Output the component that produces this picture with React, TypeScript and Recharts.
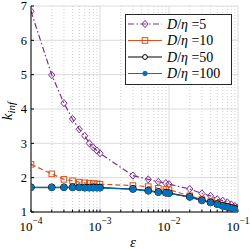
import React from "react";
import { LineChart, Line, XAxis, YAxis, CartesianGrid } from "recharts";

const eps = [
  0.0001, 0.0002, 0.0003, 0.0004, 0.0005, 0.0006, 0.0007, 0.0008, 0.0009, 0.001,
  0.003, 0.005, 0.007, 0.009, 0.01,
  0.02, 0.03, 0.04, 0.05, 0.06, 0.07, 0.08, 0.09, 0.1,
];
const k5 = [
  6.85, 4.99, 4.17, 3.71, 3.41, 3.22, 3.0, 2.88, 2.79, 2.71,
  2.06, 1.95, 1.88, 1.84, 1.81,
  1.67, 1.54, 1.47, 1.37, 1.33, 1.28, 1.22, 1.17, 1.13,
];
const k10 = [
  2.39, 2.11, 1.95, 1.91, 1.87, 1.85, 1.84, 1.83, 1.82, 1.81,
  1.77, 1.74, 1.69, 1.66, 1.65,
  1.47, 1.36, 1.3, 1.25, 1.2, 1.16, 1.13, 1.1, 1.07,
];
const k50 = [
  1.72, 1.72, 1.72, 1.72, 1.72, 1.71, 1.71, 1.71, 1.71, 1.71,
  1.67, 1.62, 1.58, 1.56, 1.55,
  1.44, 1.34, 1.28, 1.23, 1.18, 1.15, 1.12, 1.09, 1.06,
];
const k100 = [
  1.71, 1.71, 1.71, 1.71, 1.71, 1.7, 1.7, 1.7, 1.7, 1.7,
  1.66, 1.61, 1.57, 1.55, 1.54,
  1.43, 1.33, 1.27, 1.22, 1.17, 1.14, 1.11, 1.08, 1.05,
];

const xMajor = [1e-4, 1e-3, 1e-2, 1e-1];
const xMinor = [
  2e-4, 3e-4, 4e-4, 5e-4, 6e-4, 7e-4, 8e-4, 9e-4,
  2e-3, 3e-3, 4e-3, 5e-3, 6e-3, 7e-3, 8e-3, 9e-3,
  2e-2, 3e-2, 4e-2, 5e-2, 6e-2, 7e-2, 8e-2, 9e-2,
];
const xAll = [...xMajor, ...xMinor].sort((a, b) => a - b);
const yTicks = [1, 2, 3, 4, 5, 6, 7];
const ratios = ["5", "10", "50", "100"];

const PURPLE = "#7E2F8E";
const ORANGE = "#D95319";
const BLUE = "#0072BD";
const FONT = '"Liberation Serif", "Times New Roman", serif';

const data = eps.map((e, i) => ({ eps: e, k5: k5[i], k10: k10[i], k50: k50[i], k100: k100[i] }));

const scaleOf = (axis: any) => {
  const s = axis?.scale;
  if (!s) return (v: number) => v;
  return typeof s === "function" ? (v: number) => s(v) : (v: number) => s.map(v);
};

const Diamond = (p: any) =>
  p.cx == null ? null : (
    <polygon
      key={p.index}
      points={`${p.cx},${p.cy - 3.6} ${p.cx + 3.1},${p.cy} ${p.cx},${p.cy + 3.6} ${p.cx - 3.1},${p.cy}`}
      fill="none"
      stroke={PURPLE}
      strokeWidth={1}
    />
  );
const Square = (p: any) =>
  p.cx == null ? null : (
    <rect key={p.index} x={p.cx - 2.8} y={p.cy - 2.8} width={5.6} height={5.6} fill="none" stroke={ORANGE} strokeWidth={1} />
  );
const Ring = (p: any) =>
  p.cx == null ? null : <circle key={p.index} cx={p.cx} cy={p.cy} r={3.4} fill="none" stroke="#000" strokeWidth={1} />;
const Dot = (p: any) =>
  p.cx == null ? null : <circle key={p.index} cx={p.cx} cy={p.cy} r={3} fill={BLUE} stroke={BLUE} strokeWidth={0.6} />;

const XTick = (p: any) => {
  const v = p.payload.value;
  const lg = Math.log10(v);
  if (Math.abs(lg - Math.round(lg)) > 1e-6) return <g />;
  return (
    <text x={p.x} y={p.y + 19} textAnchor="middle" fontFamily={FONT} fontSize={13} fill="#000">
      <tspan>10</tspan>
      <tspan dy={-7} fontSize={9.5}>{"\u2212" + Math.abs(Math.round(lg))}</tspan>
    </text>
  );
};

const legendRows = [
  { color: PURPLE, dash: "6 2.5 1.5 2.5", mark: "diamond" },
  { color: ORANGE, dash: "", mark: "square" },
  { color: "#000", dash: "", mark: "ring" },
  { color: BLUE, dash: "", mark: "dot" },
];

const LegendMark = ({ mark, x, y }: { mark: string; x: number; y: number }) => {
  if (mark === "diamond") return <Diamond cx={x} cy={y} />;
  if (mark === "square") return <Square cx={x} cy={y} />;
  if (mark === "ring") return <circle cx={x} cy={y} r={2.4} fill="#fff" stroke="#000" strokeWidth={1} />;
  return <circle cx={x} cy={y} r={2.2} fill={BLUE} stroke={BLUE} />;
};

export default function App() {
  return (
    <div style={{ position: "fixed", left: 0, top: 0, width: 250, height: 249, background: "#fff" }}>
      <LineChart width={250} height={249} data={data} margin={{ top: 6, right: 12, left: 0, bottom: 0 }}>
        <CartesianGrid
          stroke="#dcdcdc"
          strokeWidth={1}
          horizontalValues={yTicks}
          verticalCoordinatesGenerator={({ xAxis }: any) => xMajor.map(scaleOf(xAxis))}
        />
        <CartesianGrid
          stroke="#c4c4c4"
          strokeDasharray="1 2"
          strokeWidth={0.8}
          horizontal={false}
          verticalCoordinatesGenerator={({ xAxis }: any) => xMinor.map(scaleOf(xAxis))}
        />
        <XAxis
          dataKey="eps"
          type="number"
          scale="log"
          domain={[1e-4, 0.1]}
          ticks={xAll}
          interval={0}
          height={37}
          allowDataOverflow
          axisLine={{ stroke: "#000" }}
          tickLine={{ stroke: "#000" }}
          tickSize={-2.5}
          tickMargin={2}
          tick={<XTick />}
        />
        <XAxis
          xAxisId="top"
          orientation="top"
          type="number"
          scale="log"
          domain={[1e-4, 0.1]}
          ticks={xAll}
          interval={0}
          height={0}
          allowDataOverflow
          axisLine={{ stroke: "#000" }}
          tickLine={{ stroke: "#000" }}
          tickSize={-2.5}
          tick={false}
        />
        <YAxis
          type="number"
          domain={[1, 7]}
          ticks={yTicks}
          interval={0}
          width={31}
          allowDataOverflow
          axisLine={{ stroke: "#000" }}
          tickLine={{ stroke: "#000" }}
          tickSize={-3}
          tickMargin={7}
          tick={{ fontSize: 12.5, fill: "#000", fontFamily: FONT }}
        />
        <YAxis
          yAxisId="right"
          orientation="right"
          type="number"
          domain={[1, 7]}
          ticks={yTicks}
          interval={0}
          width={0}
          allowDataOverflow
          axisLine={{ stroke: "#000" }}
          tickLine={{ stroke: "#000" }}
          tickSize={-3}
          tick={false}
        />
        <Line dataKey="k5" stroke={PURPLE} strokeWidth={1.2} strokeDasharray="6 2.5 1.5 2.5" dot={<Diamond />} isAnimationActive={false} />
        <Line dataKey="k10" stroke={ORANGE} strokeWidth={1.2} strokeDasharray="5 3" dot={<Square />} isAnimationActive={false} />
        <Line dataKey="k50" stroke="#000" strokeWidth={1.2} dot={<Ring />} isAnimationActive={false} />
        <Line dataKey="k100" stroke={BLUE} strokeWidth={1.2} dot={<Dot />} isAnimationActive={false} />
      </LineChart>
      <svg width={250} height={249} style={{ position: "absolute", left: 0, top: 0, pointerEvents: "none" }}>
        <text x={133} y={247} textAnchor="middle" fontFamily={FONT} fontStyle="italic" fontSize={15} fill="#000">
          ε
        </text>
        <text transform="translate(12,111) rotate(-90)" textAnchor="middle" fontFamily={FONT} fontStyle="italic" fontSize={15} fill="#000">
          <tspan>k</tspan>
          <tspan dy={3} fontSize={11}>inf</tspan>
        </text>
        <rect x={125.5} y={14.5} width={106} height={70} fill="#fff" stroke="#262626" strokeWidth={1} />
        {legendRows.map((r, i) => {
          const cy = 24 + i * 16.5;
          return (
            <g key={i}>
              <line x1={128} x2={162} y1={cy} y2={cy} stroke={r.color} strokeWidth={1.2} strokeDasharray={r.dash || undefined} />
              <LegendMark mark={r.mark} x={145} y={cy} />
              <text x={167} y={cy + 4.5} fontFamily={FONT} fontSize={14} fill="#000">
                <tspan fontStyle="italic">D</tspan>/<tspan fontStyle="italic">η</tspan>
                {" =" + ratios[i]}
              </text>
            </g>
          );
        })}
      </svg>
    </div>
  );
}
